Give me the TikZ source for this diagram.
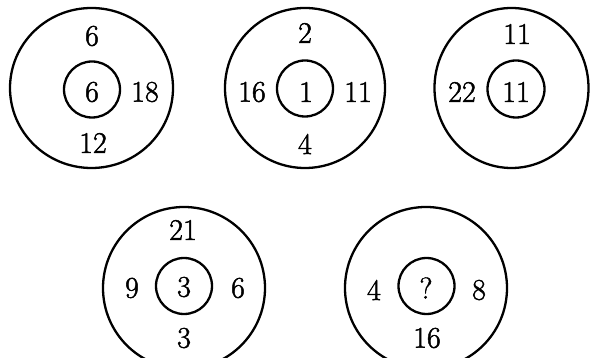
\documentclass[tikz,border=0pt]{standalone}
\usepackage{fontspec}
\newfontfamily\numfont{Latin Modern Roman}[FakeBold=1.6]
\begin{document}
\begin{tikzpicture}[x=1pt,y=-1pt,
  ring/.style={draw=black, line width=2.3pt},
  num/.style={inner sep=0pt, font=\numfont\fontsize{30}{32}\selectfont, text=black}]
\useasboundingbox (0,0) rectangle (590,358);
\clip (0,0) rectangle (590,358);
% circle 1
\draw[ring] (91.5,88) ellipse [x radius=81.5, y radius=80];
\draw[ring] (92,89.5) circle [radius=28];
\node[num] (a1) at (92,36) {6};
\node[num] (a2) at (92,92) {6};
\node[num] (a3) at (145,92) {18};
\node[num] (a4) at (93,143) {12};
% circle 2
\draw[ring] (305,88) circle [radius=80];
\draw[ring] (305,88.5) circle [radius=28];
\node[num] (b1) at (305,33) {2};
\node[num] (b2) at (252,92) {16};
\node[num] (b3) at (306,92) {1};
\node[num] (b4) at (358,92) {11};
\node[num] (b5) at (305,144) {4};
% circle 3
\draw[ring] (511.5,88) ellipse [x radius=77, y radius=80];
\draw[ring] (516,89) circle [radius=28.5];
\node[num] (c1) at (517,34) {11};
\node[num] (c2) at (462,92) {22};
\node[num] (c3) at (516,92) {11};
% circle 4
\draw[ring] (184,288) circle [radius=81];
\draw[ring] (184,286) circle [radius=28];
\node[num] (d1) at (183,230) {21};
\node[num] (d2) at (132,288) {9};
\node[num] (d3) at (184,287) {3};
\node[num] (d4) at (238,288) {6};
\node[num] (d5) at (184,338) {3};
% circle 5
\draw[ring] (426,288) circle [radius=81];
\draw[ring] (426.5,286) circle [radius=28];
\node[num] (e1) at (374,290) {4};
\node[num] (e2) at (426,288) {?};
\node[num] (e3) at (479,290) {8};
\node[num] (e4) at (427,338) {16};
\end{tikzpicture}
\end{document}
